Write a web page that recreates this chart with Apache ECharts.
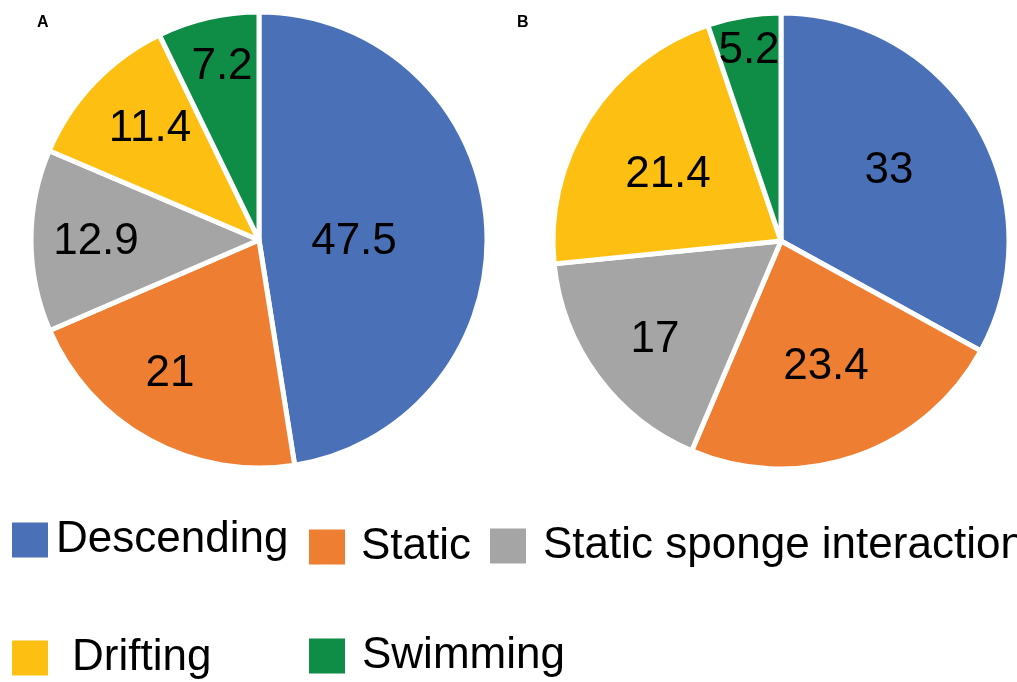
<!DOCTYPE html>
<html>
<head>
<meta charset="utf-8">
<title>Behaviour proportions</title>
<script src="https://cdn.jsdelivr.net/npm/echarts@6/dist/echarts.min.js"></script>
<style>
  html, body { margin: 0; padding: 0; background: #ffffff; }
  #chart { width: 1017px; height: 682px; }
</style>
</head>
<body>
<div id="chart"></div>
<script>
// Behaviour categories, in clockwise order from 12 o'clock
const categories = ['Descending', 'Static', 'Static sponge interaction', 'Drifting', 'Swimming'];
// Percentage of time per behaviour
const valuesA = [47.5, 21, 12.9, 11.4, 7.2];
const valuesB = [33, 23.4, 17, 21.4, 5.2];
const panelTitles = ['A', 'B'];

const colors = ['#4A71B8', '#EE7E31', '#A5A5A5', '#FDBF12', '#0F8C45'];
const FONT = '"Liberation Sans", Arial, Helvetica, sans-serif';

// Pie geometry (pixels)
const centers = [[259, 240], [781, 241]];
const radius = 228;

// Where each value label sits, relative to its pie's centre
const labelOffsets = [
  [[95, 2], [-89, 134], [-163, 2], [-109, -111], [-37, -173]],
  [[108, -70], [45, 126], [-126, 99], [-113, -66], [-32, -190]]
];

function pieSeries(values, idx) {
  return {
    type: 'pie',
    center: centers[idx],
    radius: radius,
    startAngle: 90,
    clockwise: true,
    avoidLabelOverlap: false,
    animation: false,
    itemStyle: { borderColor: '#ffffff', borderWidth: 5 },
    label: {
      show: true,
      position: 'inside',
      formatter: '{c}',
      color: '#000000',
      fontSize: 44,
      fontFamily: FONT,
      align: 'center',
      verticalAlign: 'middle'
    },
    labelLine: { show: false },
    emphasis: { disabled: true },
    labelLayout: function (params) {
      const off = labelOffsets[idx][params.dataIndex];
      return { x: centers[idx][0] + off[0], y: centers[idx][1] + off[1], align: 'center', verticalAlign: 'middle' };
    },
    data: categories.map((name, i) => ({ name: name, value: values[i] }))
  };
}

// Legend entries laid out in two rows; gap = space between swatch and text
const legendSlots = [
  { left: 10, top: 518, gap: 2 },
  { left: 307, top: 525, gap: 10 },
  { left: 488, top: 524, gap: 11 },
  { left: 10, top: 636, gap: 18 },
  { left: 307, top: 634, gap: 11 }
];

const legends = categories.map((name, i) => ({
  data: [name],
  left: legendSlots[i].left,
  top: legendSlots[i].top,
  padding: 0,
  icon: 'rect',
  itemWidth: 38,
  itemHeight: 37,
  selectedMode: false,
  textStyle: {
    fontSize: 44,
    fontFamily: FONT,
    color: '#000000',
    padding: [0, 0, 0, legendSlots[i].gap]
  }
}));

const titleStyle = { fontSize: 16, fontWeight: 'bold', fontFamily: FONT, color: '#000' };

const chart = echarts.init(document.getElementById('chart'), null, { renderer: 'canvas' });
chart.setOption({
  backgroundColor: '#ffffff',
  color: colors,
  animation: false,
  title: [
    { text: panelTitles[0], left: 37, top: 15, padding: 0, textStyle: titleStyle },
    { text: panelTitles[1], left: 517, top: 15, padding: 0, textStyle: titleStyle }
  ],
  legend: legends,
  series: [pieSeries(valuesA, 0), pieSeries(valuesB, 1)]
});
</script>
</body>
</html>
